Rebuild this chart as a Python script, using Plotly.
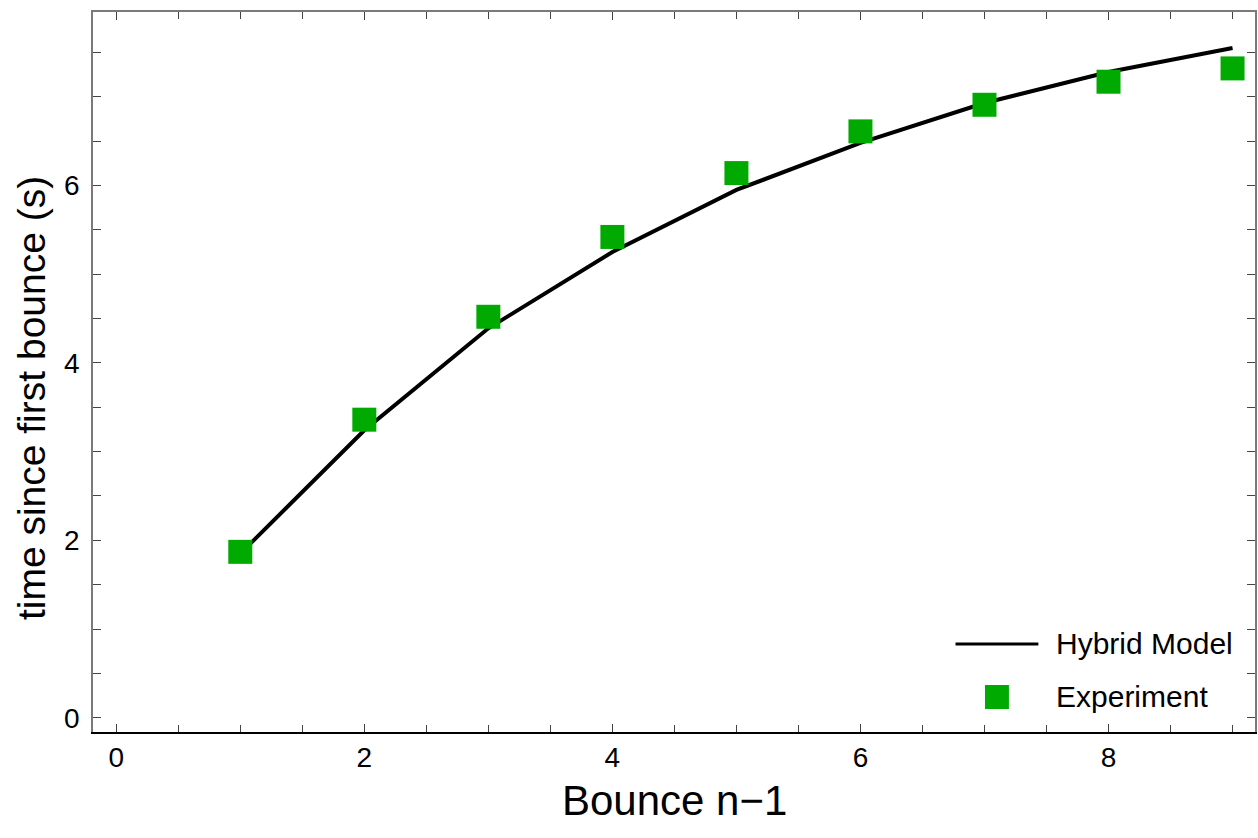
import plotly.graph_objects as go

# Bounce index (n-1) and elapsed time since the first bounce
bounce = [1, 2, 3, 4, 5, 6, 7, 8, 9]
experiment_t = [1.87, 3.36, 4.52, 5.42, 6.14, 6.61, 6.91, 7.17, 7.32]
model_t = [1.85, 3.24, 4.39, 5.25, 5.95, 6.48, 6.93, 7.28, 7.55]

x_ticks = [0, 2, 4, 6, 8]
y_ticks = [0, 2, 4, 6]

W, H = 1258, 838
L, R, T, B = 93, 1, 12, 106
PW, PH = W - L - R, H - T - B

GREEN = "#00AA00"
FRAME = "#7a7a7a"
FONT = "Liberation Sans, Arial, sans-serif"


def px_x(p):
    return (p - L) / PW


def px_y(p):
    return (H - B - p) / PH


fig = go.Figure()

fig.add_trace(go.Scatter(
    x=bounce, y=model_t, mode="lines", name="Hybrid Model",
    line=dict(color="black", width=4), showlegend=False,
))
fig.add_trace(go.Scatter(
    x=bounce, y=experiment_t, mode="markers", name="Experiment",
    marker=dict(symbol="square", size=24, color=GREEN, line=dict(width=0)),
    showlegend=False,
))
# empty trace so the top frame axis gets drawn
fig.add_trace(go.Scatter(x=[], y=[], xaxis="x2", yaxis="y", showlegend=False))

xr = [-0.1875, 9.181]
yr = [-0.161, 7.956]

common_tick = dict(ticks="inside", ticklen=8, tickwidth=1, tickcolor="#444")
minor_ticks = dict(dtick=0.5, tick0=0, ticks="inside", ticklen=7,
                   tickcolor="#444", showgrid=False)

fig.update_layout(
    width=W, height=H,
    margin=dict(l=L, r=R, t=T, b=B),
    paper_bgcolor="white", plot_bgcolor="white",
    font=dict(family=FONT, color="black"),
    xaxis=dict(
        range=xr, tickvals=x_ticks, showgrid=False, zeroline=False,
        showline=True, linecolor="black", linewidth=1.5, mirror=False,
        tickfont=dict(size=28, family=FONT, color="black"),
        ticklabelstandoff=0,
        minor=minor_ticks,
        **common_tick,
    ),
    xaxis2=dict(
        range=xr, overlaying="x", side="top", anchor="y",
        tickvals=x_ticks, showticklabels=False, showgrid=False, zeroline=False,
        showline=True, linecolor=FRAME, linewidth=1.5,
        minor=minor_ticks,
        **common_tick,
    ),
    yaxis=dict(
        range=yr, tickvals=y_ticks, showgrid=False, zeroline=False,
        showline=True, linecolor=FRAME, linewidth=1.5, mirror="allticks",
        tickfont=dict(size=28, family=FONT, color="black"),
        ticklabelstandoff=6,
        minor=minor_ticks,
        **common_tick,
    ),
    showlegend=False,
)

# axis titles
fig.add_annotation(
    text="Bounce n\u22121", xref="paper", yref="paper",
    x=px_x(675), y=px_y(800), xanchor="center", yanchor="middle",
    showarrow=False, font=dict(size=42, family=FONT, color="black"),
)
fig.add_annotation(
    text="time since first bounce (s)", xref="paper", yref="paper",
    x=px_x(31), y=px_y(398), xanchor="center", yanchor="middle",
    textangle=-90, showarrow=False,
    font=dict(size=39, family=FONT, color="black"),
)

# legend block in the lower right of the frame
fig.add_shape(type="line", xref="paper", yref="paper",
              x0=px_x(957), x1=px_x(1040), y0=px_y(644), y1=px_y(644),
              line=dict(color="black", width=3))
fig.add_shape(type="rect", xref="paper", yref="paper",
              x0=px_x(986.5), x1=px_x(1010.5), y0=px_y(685), y1=px_y(709),
              fillcolor=GREEN, line=dict(width=0))
for label, ypx in [("Hybrid Model", 643), ("Experiment", 696)]:
    fig.add_annotation(
        text=label, xref="paper", yref="paper",
        x=px_x(1056), y=px_y(ypx), xanchor="left", yanchor="middle",
        showarrow=False, font=dict(size=30, family=FONT, color="black"),
    )

fig.write_html("out.html")
